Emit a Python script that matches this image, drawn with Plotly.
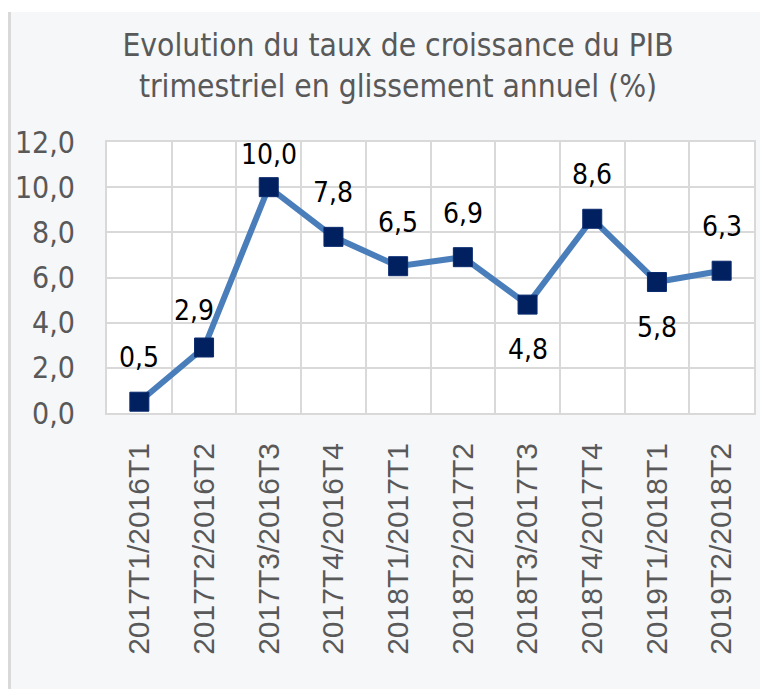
import plotly.graph_objects as go

periods = ["2017T1/2016T1", "2017T2/2016T2", "2017T3/2016T3", "2017T4/2016T4",
           "2018T1/2017T1", "2018T2/2017T2", "2018T3/2017T3", "2018T4/2017T4",
           "2019T1/2018T1", "2019T2/2018T2"]
growth = [0.5, 2.9, 10.0, 7.8, 6.5, 6.9, 4.8, 8.6, 5.8, 6.3]
y_ticks = [0, 2, 4, 6, 8, 10, 12]
title_text = "Evolution du taux de croissance du PIB<br>trimestriel en glissement annuel (%)"

# page body has an 8px margin; figure sized to fit the window
W, H = 760, 681
L, R, T, B = 99, 14, 134, 276
pw, ph = W - L - R, H - T - B

def px_x(px):
    return (px - L) / pw

def px_y(py):
    return (H - B - py) / ph

LABEL_FONT = "DejaVu Sans Condensed, Liberation Sans, sans-serif"

fig = go.Figure()
fig.add_trace(go.Scatter(
    x=periods, y=growth, mode="lines+markers",
    line=dict(color="#4A7EBB", width=6),
    marker=dict(symbol="square", size=19, color="#002060",
                line=dict(color="#0A2A6E", width=1)),
    hoverinfo="skip", showlegend=False, cliponaxis=False,
))

# data labels
below = {"4,8", "5,8"}
for i, (p, v) in enumerate(zip(periods, growth)):
    txt = f"{v:.1f}".replace(".", ",")
    if txt in below:
        ys = -45
    elif v >= 10:
        ys = 33
    elif i == 1:
        ys = 37
    else:
        ys = 44
    xs = -10 if i == 1 else 0
    fig.add_annotation(x=p, y=v, text=txt, showarrow=False, yshift=ys, xshift=xs,
                       font=dict(family=LABEL_FONT, size=28, color="#000000"))

grid = "#D9D9D9"
fig.update_layout(
    width=W, height=H,
    margin=dict(l=L, r=R, t=T, b=B, autoexpand=False),
    paper_bgcolor="#F5F7F9", plot_bgcolor="#FFFFFF",
    separators=",.",
    title=dict(text=title_text, xref="container", yref="container",
               x=390 / W, y=1 - 48 / H, xanchor="center", yanchor="middle",
               font=dict(family=LABEL_FONT, size=31.5, color="#595959")),
    xaxis=dict(type="category", range=[-0.5, len(periods) - 0.5],
               tickson="boundaries", showgrid=True,
               gridcolor=grid, gridwidth=2, showline=True, linecolor=grid,
               linewidth=2, mirror=True, ticks="", tickangle=-90,
               ticklabelstandoff=16, automargin=False,
               tickfont=dict(family="Liberation Sans, Arial, sans-serif",
                             size=30, color="#595959")),
    yaxis=dict(range=[0, 12], tickvals=y_ticks, tickformat=".1f",
               showgrid=True, gridcolor=grid, gridwidth=2, showline=True,
               linecolor=grid, linewidth=2, mirror=True, ticks="",
               zeroline=False, ticklabelstandoff=24, automargin=False,
               tickfont=dict(family=LABEL_FONT, size=30, color="#595959")),
    shapes=[
        dict(type="rect", xref="paper", yref="paper", x0=px_x(0), x1=px_x(W),
             y0=px_y(4), y1=px_y(0), fillcolor="#FFFFFF", line_width=0, layer="below"),
        dict(type="rect", xref="paper", yref="paper", x0=px_x(0), x1=px_x(3),
             y0=px_y(H), y1=px_y(4), fillcolor="#D9D9D9", line_width=0, layer="below"),
    ],
)

fig.write_html("out.html")
